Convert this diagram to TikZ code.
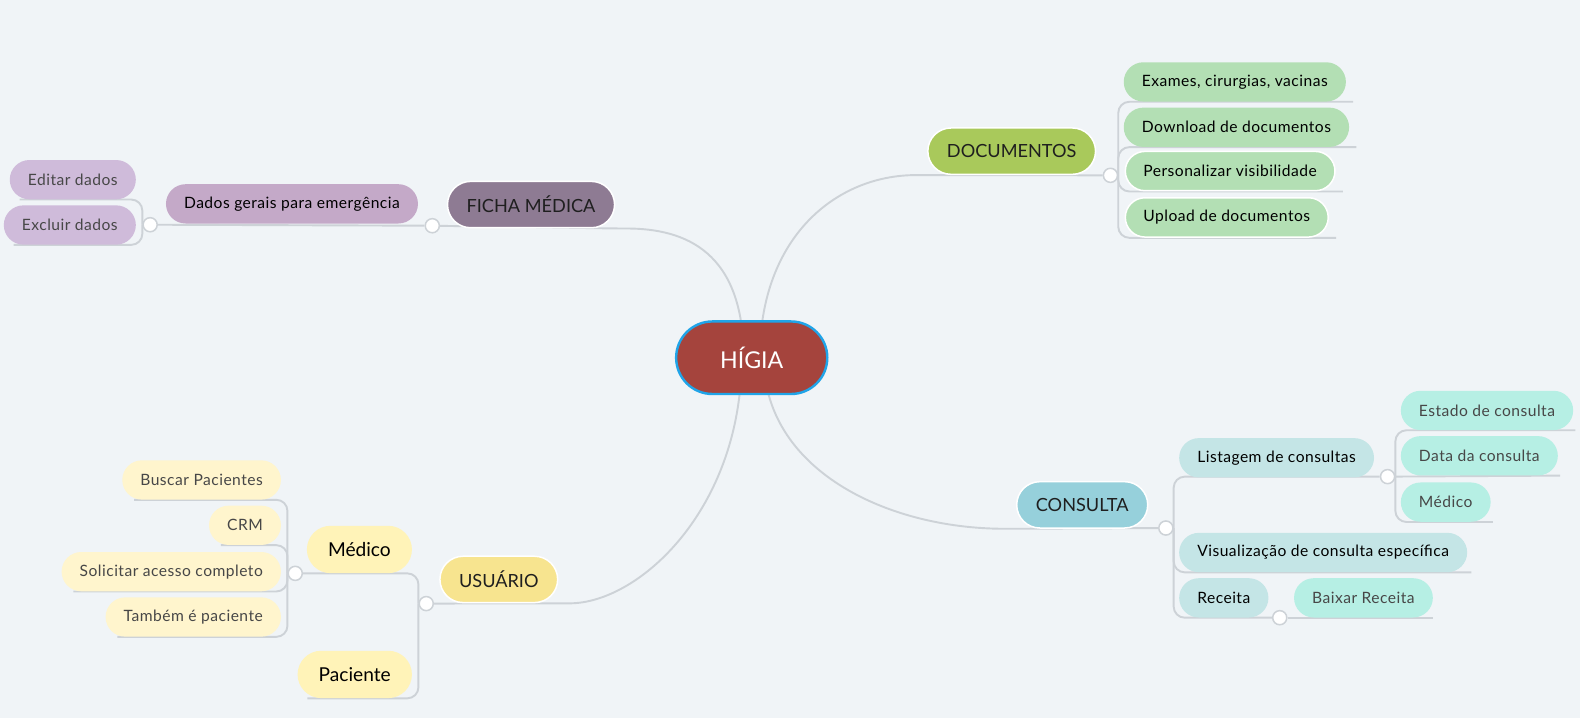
\documentclass[tikz,border=0pt]{standalone}
\usepackage{fontspec}
\setmainfont{Lato}
\newfontfamily\pillfont{Lato}[LetterSpace=3]
\usetikzlibrary{backgrounds}

\definecolor{paper}{HTML}{F0F4F7}
\definecolor{linegray}{HTML}{CDD2D7}
\definecolor{higred}{HTML}{A5443D}
\definecolor{higblue}{HTML}{20A4E8}
\definecolor{fichaC}{HTML}{8E7B93}
\definecolor{fichaS}{HTML}{C4A9C8}
\definecolor{fichaL}{HTML}{CFBBDA}
\definecolor{docC}{HTML}{A9C95B}
\definecolor{docS}{HTML}{B3DFB4}
\definecolor{consC}{HTML}{96D0DB}
\definecolor{consS}{HTML}{C4E5E6}
\definecolor{consL}{HTML}{B6EFE4}
\definecolor{usuC}{HTML}{F7E48F}
\definecolor{usuS}{HTML}{FFF3B8}
\definecolor{usuL}{HTML}{FFF5CD}

\tikzset{
  link/.style={draw=linegray,line width=1.9pt,rounded corners=11pt},
  knot/.style={circle,draw=linegray,fill=white,line width=1.5pt,minimum size=14pt,inner sep=0pt},
  pill/.style={rounded corners=19.5pt,minimum height=39pt,inner xsep=18pt,inner ysep=0pt,
    text=black,font=\pillfont\fontsize{15.5}{18}\selectfont},
  leaf/.style={pill,text=black!72},
  topic/.style={pill,draw=white,line width=1.5pt,rounded corners=23pt,minimum height=46pt,
    inner xsep=19pt,text=black!88,font=\fontsize{18}{21}\selectfont},
  person/.style={pill,rounded corners=23.5pt,minimum height=47pt,inner xsep=21pt,
    font=\fontsize{19}{22}\selectfont},
  root/.style={draw=higblue,fill=higred,line width=2.4pt,rounded corners=36pt,
    minimum width=150pt,minimum height=72pt,text=white,font=\fontsize{23}{26}\selectfont}
}

\begin{document}
\begin{tikzpicture}[x=1pt,y=-1pt]

\begin{pgfonlayer}{background}
\fill[paper] (0,0) rectangle (1568,713);
\end{pgfonlayer}
\useasboundingbox (0,0) rectangle (1568,713);

% centre and main topics
\node[root] (higia) at (746,355) {HÍGIA};
\node[topic,fill=fichaC] (ficha) at (527,203) {FICHA MÉDICA};
\node[topic,fill=docC] (docs) at (1004,150) {DOCUMENTOS};
\node[topic,fill=consC] (cons) at (1074,501) {CONSULTA};
\node[topic,fill=usuC] (usu) at (495,575) {USUÁRIO};

% junctions
\node[knot] (jF) at (429,224) {};
\node[knot] (jDG) at (149,223) {};
\node[knot] (jD) at (1102,174) {};
\node[knot] (jC) at (1157,524) {};
\node[knot] (jL) at (1377,473) {};
\node[knot] (jR) at (1270,613) {};
\node[knot] (jU) at (423,599) {};
\node[knot] (jM) at (293,569) {};

% ficha medica
\node[pill,fill=fichaS,anchor=south east] (dados) at (415,222) {Dados gerais para emergência};
\node[leaf,fill=fichaL,anchor=south east] (editar) at (135,198) {Editar dados};
\node[leaf,fill=fichaL,anchor=south east] (excluir) at (135,243) {Excluir dados};

% documentos
\node[pill,fill=docS,anchor=south west] (exames) at (1115,101) {Exames, cirurgias, vacinas};
\node[pill,fill=docS,anchor=south west] (download) at (1115,146) {Download de documentos};
\node[pill,fill=docS,draw=white,line width=1.5pt,anchor=south west] (personalizar) at (1116,190) {Personalizar visibilidade};
\node[pill,fill=docS,draw=white,line width=1.5pt,anchor=south west] (upload) at (1116,236) {Upload de documentos};

% consulta
\node[pill,fill=consS,anchor=south west] (listagem) at (1170,474) {Listagem de consultas};
\node[leaf,fill=consL,anchor=south west] (estado) at (1390,427) {Estado de consulta};
\node[leaf,fill=consL,anchor=south west] (data) at (1390,472) {Data da consulta};
\node[leaf,fill=consL,anchor=south west] (medicoC) at (1390,518) {Médico};
\node[pill,fill=consS,anchor=south west] (visual) at (1170,568) {Visualização de consulta específica};
\node[pill,fill=consS,anchor=south west] (receita) at (1170,613) {Receita};
\node[leaf,fill=consL,anchor=south west] (baixar) at (1284,613) {Baixar Receita};

% usuario
\node[person,fill=usuS,anchor=south east] (medico) at (409,569) {Médico};
\node[person,fill=usuS,anchor=south east] (paciente) at (409,693) {Paciente};
\node[leaf,fill=usuL,anchor=south east] (busca) at (279,496) {Buscar Pacientes};
\node[leaf,fill=usuL,anchor=south east] (crm) at (279,541) {CRM};
\node[leaf,fill=usuL,anchor=south east] (solicitar) at (279,587) {Solicitar acesso completo};
\node[leaf,fill=usuL,anchor=south east] (tambem) at (279,632) {Também é paciente};

\begin{pgfonlayer}{background}
% from the centre
\draw[link] ([xshift=-8pt]higia.center) .. controls +(0,-105) and +(70,0) .. (ficha.south east) -- (jF);
\draw[link] ([xshift=8pt]higia.center) .. controls +(0,-120) and +(-90,0) .. (docs.south west) -- (jD);
\draw[link] ([xshift=12pt]higia.center) .. controls +(0,110) and +(-130,0) .. (cons.south west) -- (jC);
\draw[link] ([xshift=-10pt]higia.center) .. controls +(0,150) and +(80,0) .. (usu.south east) -- (jU);

\draw[link] (jF) -- (jDG);
\foreach \c in {editar,excluir}
  \draw[link] (jDG.west) |- ([xshift=10pt]\c.south west);

\foreach \c in {exames,download,personalizar,upload}
  \draw[link] (jD.east) |- ([xshift=7pt]\c.south east);

\draw[link] (jC.east) |- (jL);
\draw[link] (jC.east) |- ([xshift=4pt]visual.south east);
\draw[link] (jC.east) |- (jR);
\draw[link] (jR) -- (baixar.south east);
\foreach \c in {estado,medicoC}
  \draw[link] (jL.east) |- ([xshift=2pt]\c.south east);
\draw[link] (jL) -- ([xshift=2pt]data.south east);

\draw[link] (jU.west) |- (jM);
\draw[link] (jU.west) |- ([xshift=10pt]paciente.south west);
\foreach \c in {busca,crm,solicitar,tambem}
  \draw[link] (jM.west) |- ([xshift=12pt]\c.south west);
\end{pgfonlayer}
\end{tikzpicture}
\end{document}
